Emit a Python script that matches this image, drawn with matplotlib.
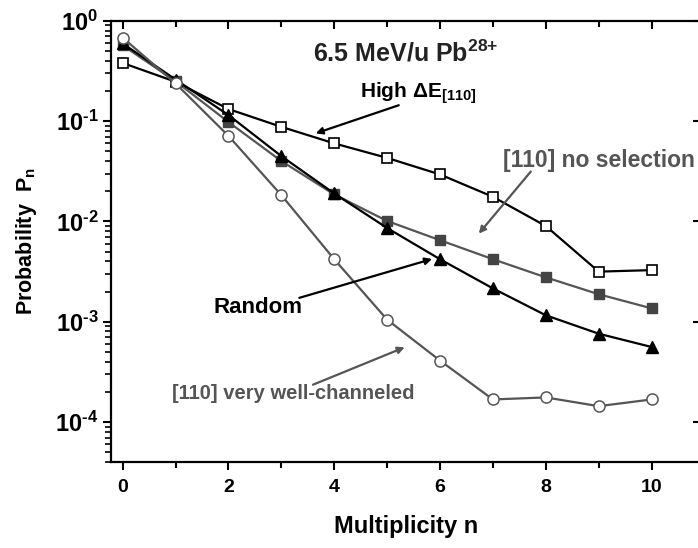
import matplotlib
matplotlib.use('Agg')
import matplotlib.pyplot as plt
from matplotlib.ticker import NullLocator

plt.rcParams['font.family'] = ['Liberation Sans', 'DejaVu Sans']
plt.rcParams['font.weight'] = 'bold'
plt.rcParams['mathtext.fontset'] = 'custom'
plt.rcParams['mathtext.rm'] = 'Liberation Sans:bold'
plt.rcParams['mathtext.it'] = 'Liberation Sans:bold'
plt.rcParams['mathtext.bf'] = 'Liberation Sans:bold'

n = [0, 1, 2, 3, 4, 5, 6, 7, 8, 9, 10]
high_de = [0.38, 0.247, 0.132, 0.0877, 0.060, 0.043, 0.0294, 0.0176, 0.0090, 0.00316, 0.00327]
no_sel = [0.57, 0.25, 0.098, 0.040, 0.0186, 0.0101, 0.0065, 0.0042, 0.00277, 0.00188, 0.00136]
random_ = [0.595, 0.26, 0.115, 0.0448, 0.019, 0.0086, 0.0042, 0.00215, 0.00116, 0.00076, 0.00056]
well_ch = [0.68, 0.238, 0.0713, 0.0183, 0.0042, 0.00105, 0.00041, 0.000168, 0.000176, 0.000144, 0.000168]

x_major = [0, 2, 4, 6, 8, 10]
x_minor = [1, 3, 5, 7, 9]
y_major = [1, 1e-1, 1e-2, 1e-3, 1e-4]
y_labels = [r'$10^{\text{0}}$', r'$10^{\text{-1}}$', r'$10^{\text{-2}}$', r'$10^{\text{-3}}$', r'$10^{\text{-4}}$']

grey = '#555555'
dark = '#444444'

fig = plt.figure(figsize=(6.98, 5.48), dpi=100)
ax = fig.add_axes([0.159, 0.157, 0.845, 0.805])

ax.plot(n, high_de, color='black', lw=1.6, marker='s', ms=7, mfc='white', mec='black', mew=1.2)
ax.plot(n, no_sel, color=grey, lw=1.6, marker='s', ms=7, mfc=dark, mec=dark)
ax.plot(n, random_, color='black', lw=1.6, marker='^', ms=9, mfc='black', mec='black')
ax.plot(n, well_ch, color=grey, lw=1.6, marker='o', ms=8, mfc='white', mec=grey, mew=1.1)

ax.set_yscale('log')
ax.set_xlim(-0.22, 10.93)
ax.set_ylim(4e-5, 1)

ax.set_xticks(x_major)
ax.set_xticks(x_minor, minor=True)
ax.set_xticklabels([str(v) for v in x_major], fontsize=14, fontweight='bold')
ax.set_yticks(y_major)
ax.set_yticklabels(y_labels, fontsize=17)

ax.tick_params(axis='x', which='major', direction='out', length=6, width=1.5, pad=6)
ax.tick_params(axis='x', which='minor', direction='out', length=4, width=1.5)
ax.tick_params(axis='y', which='major', direction='out', length=6, width=1.5, pad=3)
ax.tick_params(axis='y', which='minor', direction='out', length=4, width=1.2)
for sp in ax.spines.values():
    sp.set_linewidth(1.6)
    sp.set_zorder(5)

# mirrored ticks on top and right point inward
top = ax.twiny()
top.set_xlim(ax.get_xlim())
top.set_xticks(x_major)
top.set_xticks(x_minor, minor=True)
top.tick_params(which='major', direction='in', length=6, width=1.5, labeltop=False)
top.tick_params(which='minor', direction='in', length=4, width=1.5)
top.patch.set_visible(False)
for sp in top.spines.values():
    sp.set_visible(False)

right = ax.twinx()
right.set_yscale('log')
right.set_ylim(ax.get_ylim())
right.set_yticks(y_major)
right.yaxis.set_minor_locator(NullLocator())
right.tick_params(which='major', direction='in', length=6, width=1.5, labelright=False)
right.patch.set_visible(False)
for sp in right.spines.values():
    sp.set_visible(False)

ax.set_xlabel('Multiplicity n', fontsize=17, fontweight='bold', labelpad=14)
ax.set_ylabel(r'Probability  P$_{\text{n}}$', fontsize=15.5, fontweight='bold')
ax.yaxis.set_label_coords(-0.122, 0.5)

ax.text(5.36, 0.47, r'6.5 MeV/u Pb$^{\text{28+}}$', fontsize=18, ha='center', va='center', color='#222222')
ax.text(4.49, 0.19, r'High ΔE$_{\text{[110]}}$', fontsize=15, ha='left', va='center')
ax.text(7.19, 0.0407, '[110] no selection', fontsize=16.5, ha='left', va='center', color=grey)
ax.text(1.71, 0.00139, 'Random', fontsize=16, ha='left', va='center')
ax.text(0.93, 0.000193, '[110] very well-channeled', fontsize=14.5, ha='left', va='center', color=grey)

arrow = dict(arrowstyle='-|>', lw=1.6, mutation_scale=10)
ax.annotate('', xy=(3.6, 0.074), xytext=(5.27, 0.147), arrowprops=dict(arrow, color='black'))
ax.annotate('', xy=(6.7, 0.0072), xytext=(7.75, 0.033), arrowprops=dict(arrow, color=grey))
ax.annotate('', xy=(5.9, 0.0043), xytext=(3.29, 0.0017), arrowprops=dict(arrow, color='black'))
ax.annotate('', xy=(5.38, 0.00057), xytext=(3.55, 0.00023), arrowprops=dict(arrow, color=grey))

fig.savefig('out.png', dpi=100)
